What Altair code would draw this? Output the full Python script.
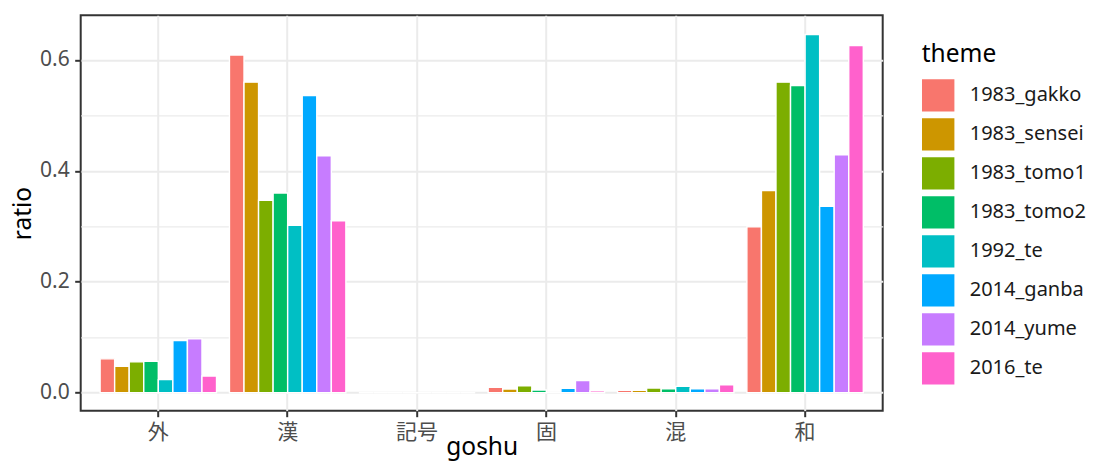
import altair as alt
import pandas as pd

goshu = ["外", "漢", "記号", "固", "混", "和"]
themes = ["1983_gakko", "1983_sensei", "1983_tomo1", "1983_tomo2",
          "1992_te", "2014_ganba", "2014_yume", "2016_te"]
colors = ["#F8766D", "#CD9600", "#7CAE00", "#00BE67",
          "#00BFC4", "#00A9FF", "#C77CFF", "#FF61CC"]

# ratio per goshu, in theme order
r_gai = [0.061, 0.0475, 0.0555, 0.0565, 0.0235, 0.094, 0.097, 0.030]
r_kan = [0.609, 0.560, 0.347, 0.360, 0.302, 0.536, 0.427, 0.310]
r_kigo = [0.0, 0.0, 0.0, 0.0, 0.0, 0.0, 0.0, 0.0]
r_ko = [0.0096, 0.0066, 0.0126, 0.0048, 0.0006, 0.0078, 0.022, 0.0036]
r_kon = [0.0042, 0.0042, 0.0084, 0.0072, 0.0114, 0.0072, 0.0072, 0.0144]
r_wa = [0.299, 0.3645, 0.560, 0.554, 0.646, 0.336, 0.429, 0.626]

ratios = [r_gai, r_kan, r_kigo, r_ko, r_kon, r_wa]
rows = []
for g, vals in zip(goshu, ratios):
    for t, v in zip(themes, vals):
        rows.append({"goshu": g, "theme": t, "ratio": v})
df = pd.DataFrame(rows)

FONT = "'Noto Sans', 'Noto Sans CJK JP', sans-serif"
is_major = "round(datum.value * 10) % 2 == 0"

chart = alt.Chart(df).mark_bar(stroke="white", strokeWidth=1.4).encode(
    x=alt.X("goshu:N", sort=goshu,
            scale=alt.Scale(paddingInner=0.1, paddingOuter=0.15),
            axis=alt.Axis(title="goshu", labelAngle=0, bandPosition=0.5,
                          grid=True, gridColor="#EBEBEB", gridWidth=2,
                          labelPadding=5, titleX=401, titleY=43.5,
                          titleBaseline="alphabetic", titleAnchor="middle")),
    xOffset=alt.XOffset("theme:N", sort=themes,
                        scale=alt.Scale(paddingInner=0, paddingOuter=0)),
    y=alt.Y("ratio:Q",
            scale=alt.Scale(domain=[-0.0325, 0.6806], nice=False, zero=False),
            axis=alt.Axis(title="ratio",
                          values=[0, 0.1, 0.2, 0.3, 0.4, 0.5, 0.6],
                          labelExpr="round(datum.value * 10) % 2 == 0 ? format(datum.value, '.1f') : ''",
                          tickOpacity={"condition": {"test": is_major, "value": 1}, "value": 0},
                          gridWidth={"condition": {"test": is_major, "value": 2}, "value": 1.3},
                          grid=True, gridColor="#EBEBEB",
                          labelPadding=5.5,
                          titleX=-50.4, titleY=197.7, titleAngle=270,
                          titleBaseline="alphabetic", titleAlign="center")),
    color=alt.Color("theme:N", sort=themes,
                    scale=alt.Scale(domain=themes, range=colors),
                    legend=alt.Legend(title="theme", orient="none",
                                      legendX=841, legendY=27.5,
                                      symbolType="square", symbolSize=1050,
                                      symbolStrokeWidth=0, symbolOpacity=1,
                                      labelOffset=15, rowPadding=6,
                                      titlePadding=11.6)),
).properties(
    width=802,
    height=395.4,
    autosize="none",
    padding={"left": 72.7, "top": 7.3, "right": 205.3, "bottom": 51.3},
).configure_view(
    stroke="#333333", strokeWidth=2
).configure_axis(
    domain=False,
    tickColor="#333333", tickWidth=2, tickSize=6,
    labelColor="#4D4D4D", labelFont=FONT, labelFontSize=21,
    titleColor="#000000", titleFont=FONT, titleFontSize=24.5,
    titleFontWeight="normal",
).configure_legend(
    titleFont=FONT, titleFontSize=24.5, titleFontWeight="normal",
    titleColor="#000000",
    labelFont=FONT, labelFontSize=20, labelColor="#1A1A1A",
)

chart.save("out.html", embed_options={"renderer": "svg", "actions": False})
